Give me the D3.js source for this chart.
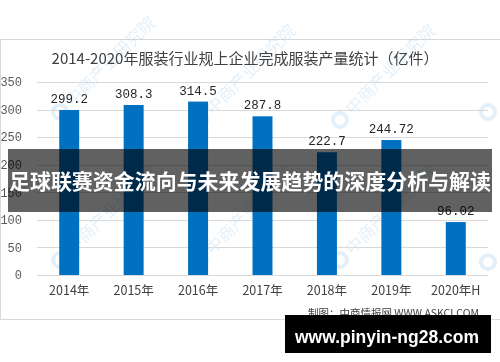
<!DOCTYPE html>
<html><head><meta charset="utf-8">
<script src="https://cdn.jsdelivr.net/npm/d3@7"></script>
<style>html,body{margin:0;padding:0;background:#fff;}svg{display:block;}</style>
</head><body>
<svg id="c" width="500" height="362"></svg>
<script>
const categories = ["2014年","2015年","2016年","2017年","2018年","2019年","2020年H"];
const values = [299.2, 308.3, 314.5, 287.8, 222.7, 244.72, 96.02];
const valueLabels = ["299.2","308.3","314.5","287.8","222.7","244.72","96.02"];
const yTicks = [0, 50, 100, 150, 200, 250, 300, 350];
const title = "2014-2020年服装行业规上企业完成服装产量统计（亿件）";
const source = "制图：中商情报网 WWW.ASKCI.COM";
const banner = "足球联赛资金流向与未来发展趋势的深度分析与解读";
const urlText = "www.pinyin-ng28.com";

const svg = d3.select("#c");
const serif = "'Liberation Mono','DejaVu Sans Mono',monospace";
const cjk = "'Noto Sans CJK SC','Noto Sans',sans-serif";

// frame
svg.append("rect").attr("x",0.5).attr("y",39.5).attr("width",502).attr("height",280)
  .attr("fill","#fff").attr("stroke","#d9d9d9");

// watermarks
const wm = svg.append("g").attr("opacity",0.13);
[[60,112,true],[200,120,true],[340,120,true],[488,112,false],[60,260,true],[200,260,true],[340,260,true],[488,262,false]].forEach(([x,y,t])=>{
  const g = wm.append("g").attr("transform",`translate(${x},${y}) rotate(-45)`);
  g.append("circle").attr("cx",0).attr("cy",0).attr("r",7).attr("fill","none").attr("stroke","#2e8bd0").attr("stroke-width",4);
  if (t) g.append("text").attr("x",12).attr("y",6).attr("font-family",cjk).attr("font-size",17)
    .attr("fill","#2e8bd0").text("中商产业研究院");
});

const x = d3.scaleBand().domain(categories).range([37,488]).paddingInner(0.69).paddingOuter(0.345);
const y = d3.scaleLinear().domain([0,350]).range([275,82]);

// gridlines
svg.append("g").selectAll("line").data(yTicks).join("line")
  .attr("x1",37).attr("x2",488).attr("y1",d=>Math.round(y(d))+0.5).attr("y2",d=>Math.round(y(d))+0.5)
  .attr("stroke","#d9d9d9").attr("stroke-width",1);

// y axis labels
const yAxis = d3.axisLeft(y).tickValues(yTicks).tickSize(0).tickPadding(0);
const ya = svg.append("g").attr("transform","translate(22,0)").call(yAxis);
ya.select(".domain").remove();
ya.selectAll("text").attr("font-family",serif).attr("font-size",12).attr("fill","#595959");

// bars
svg.append("g").selectAll("rect").data(values).join("rect")
  .attr("x",(d,i)=>x(categories[i])).attr("width",x.bandwidth())
  .attr("y",d=>y(d)).attr("height",d=>y(0)-y(d)).attr("fill","#0070c0");

// value labels
svg.append("g").selectAll("text").data(values).join("text")
  .attr("x",(d,i)=>x(categories[i])+x.bandwidth()/2).attr("y",d=>y(d)-7)
  .attr("text-anchor","middle").attr("font-family",serif).attr("font-size",12.5)
  .attr("fill","#262626").text((d,i)=>valueLabels[i]);

// x axis
const xAxis = d3.axisBottom(x).tickSize(0).tickPadding(0);
const xa = svg.append("g").attr("transform","translate(0,286)").call(xAxis);
xa.select(".domain").remove();
xa.selectAll("text").attr("font-family",cjk).attr("font-size",12.5).attr("fill","#404040").attr("dy","0.71em");

// title
svg.append("text").attr("x",245).attr("y",64).attr("text-anchor","middle")
  .attr("font-family",cjk).attr("font-size",15).attr("fill","#404040").text(title);

// source
svg.append("text").attr("x",479).attr("y",317).attr("text-anchor","end")
  .attr("font-family",cjk).attr("font-size",10.5).attr("fill","#404040").text(source);

// banner overlay
svg.append("rect").attr("x",8).attr("y",149).attr("width",484).attr("height",63)
  .attr("fill","#000").attr("opacity",0.62);
svg.append("text").attr("x",250).attr("y",189).attr("text-anchor","middle")
  .attr("font-family",cjk).attr("font-weight","bold").attr("font-size",21)
  .attr("textLength",482).attr("lengthAdjust","spacingAndGlyphs")
  .attr("fill","#fff").text(banner);

// url box
svg.append("rect").attr("x",285).attr("y",315).attr("width",206).attr("height",38).attr("fill","#000");
svg.append("text").attr("x",387).attr("y",343).attr("text-anchor","middle")
  .attr("font-family","'Liberation Sans',Arial,sans-serif").attr("font-weight","bold").attr("font-size",18)
  .attr("textLength",184).attr("lengthAdjust","spacingAndGlyphs")
  .attr("fill","#fff").text(urlText);
</script>
</body></html>
